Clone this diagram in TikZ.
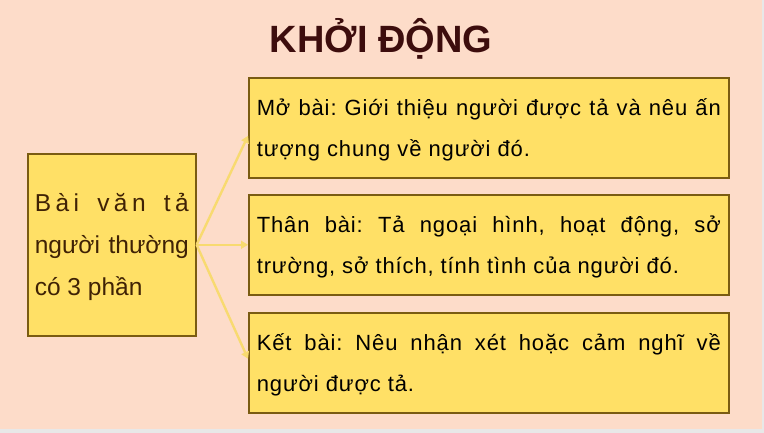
\documentclass[tikz,border=0pt]{standalone}
\usepackage{fontspec}
\setmainfont{Liberation Sans}
\newfontfamily\boxfont[LetterSpace=4]{Liberation Sans}
\newfontfamily\spreadfont[LetterSpace=18]{Liberation Sans}
\frenchspacing
\usetikzlibrary{arrows.meta}
\definecolor{slidebg}{HTML}{FDDCC9}
\definecolor{slideedge}{HTML}{E8E8E8}
\definecolor{boxfill}{HTML}{FFE066}
\definecolor{boxline}{HTML}{7A5C12}
\definecolor{branchcol}{HTML}{F8DA70}
\definecolor{titlecol}{HTML}{3D0D0D}
\definecolor{topiccol}{HTML}{3F2205}

\begin{document}
\begin{tikzpicture}[x=1pt,y=-1pt,
  partbox/.style={draw=boxline,line width=1.6pt,fill=boxfill,anchor=north west,
    inner xsep=8pt,inner ysep=0pt,text width=464pt,minimum height=100pt,
    align=justify,font=\boxfont\fontsize{22}{41}\selectfont\frenchspacing},
  branch/.style={draw=branchcol,line width=2.4pt,-{Triangle[length=7pt,width=8pt]}}]
  % Configurable parameters
  \def\boxleft{248}      % Left edge of the three part boxes
  \def\slidew{761.5}     % Width of the slide (grey strip beyond)
  \def\slideh{429}       % Height of the slide
  \newcommand{\linestrut}{\rule[-6pt]{0pt}{29pt}}
  %
  % Slide background
  \fill[slideedge] (0,0) rectangle (764,433);
  \fill[slidebg] (0,0) rectangle (\slidew,\slideh);
  %
  % Title
  \node[titlecol,anchor=base,font=\bfseries\fontsize{38}{38}\selectfont]
    (title) at (381,53) {KHỞI ĐỘNG};
  %
  % Topic box
  \node[partbox,text width=154pt,inner xsep=7pt,minimum height=182pt,
    text=topiccol,font=\rmfamily\fontsize{24.5}{42}\selectfont]
    (topic) at (27,153)
    {\linestrut{\spreadfont Bài văn tả}\linebreak người thường\linebreak
     có 3 phần\linestrut};
  %
  % Part boxes
  \node[partbox] (mo) at (\boxleft,77)
    {\linestrut Mở bài: Giới thiệu người được tả và nêu ấn\linebreak
     tượng chung về người đó.\linestrut};
  \node[partbox] (than) at (\boxleft,194)
    {\linestrut Thân bài: Tả ngoại hình, hoạt động, sở\linebreak
     trường, sở thích, tính tình của người đó.\linestrut};
  \node[partbox] (ket) at (\boxleft,312)
    {\linestrut Kết bài: Nêu nhận xét hoặc cảm nghĩ về\linebreak
     người được tả.\linestrut};
  %
  % Branches
  \draw[branch] (topic.east) -- ([yshift=-8pt]mo.west);
  \draw[branch] (topic.east) -- (than.west);
  \draw[branch] (topic.east) -- ([yshift=4pt]ket.west);
  %
\end{tikzpicture}
\end{document}
